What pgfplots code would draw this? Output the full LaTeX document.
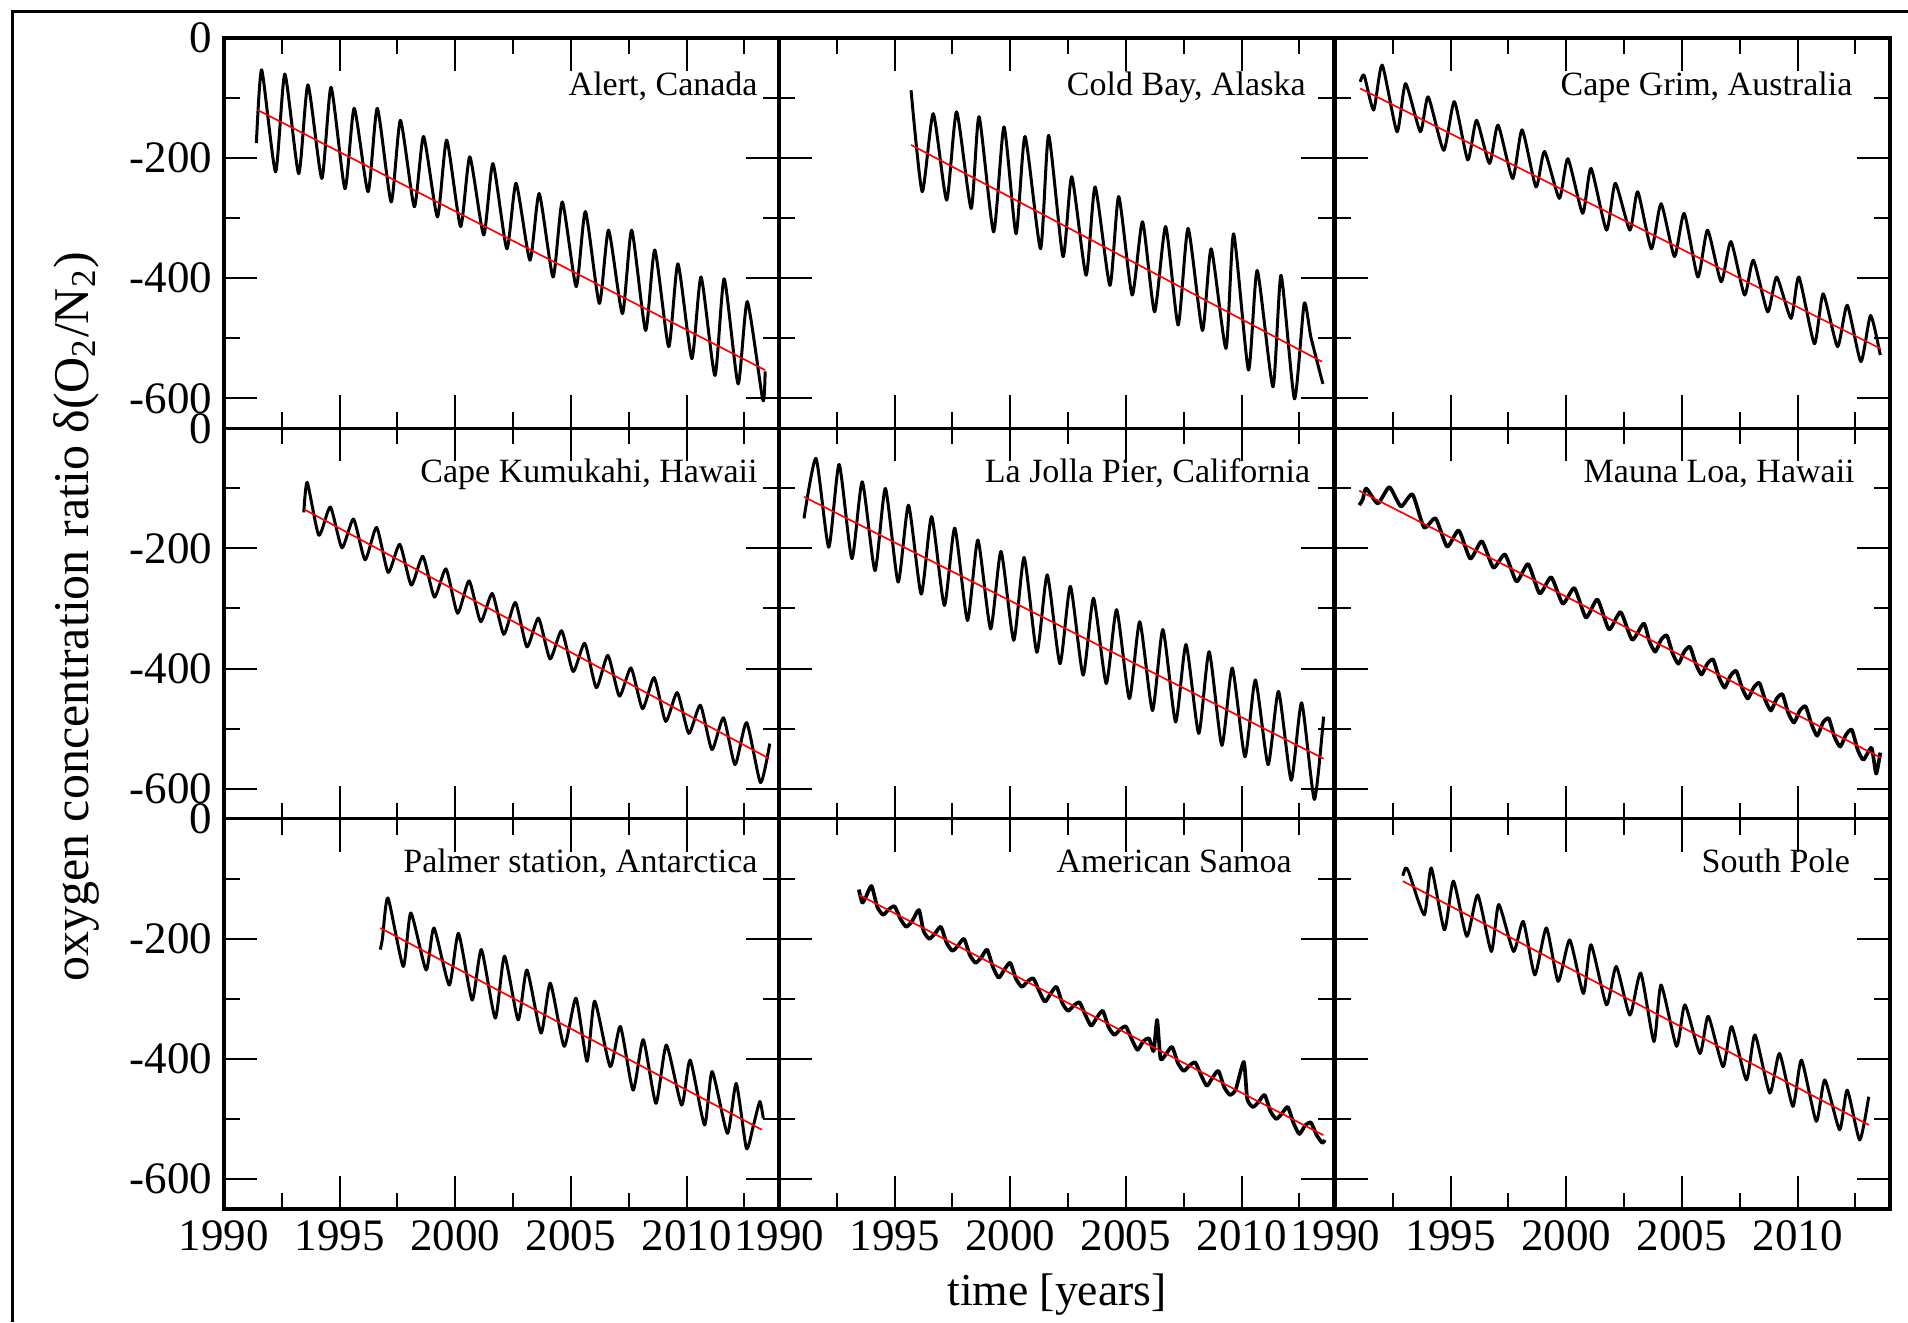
\documentclass[border=0pt]{standalone}
\usepackage{fontspec}
\setmainfont{Liberation Serif}
\usepackage{pgfplots}
\pgfplotsset{compat=1.18}

% one panel of the 3x3 grid
\pgfplotsset{
  panel/.style={
    scale only axis, width=166.5pt, height=117.1pt,
    anchor=north west,
    xmin=1990, xmax=2014, ymin=-650, ymax=0,
    xtick={1990,1995,2000,2005,2010},
    minor xtick={1992.5,1997.5,2002.5,2007.5,2012.5},
    ytick={-600,-400,-200,0},
    minor ytick={-500,-300,-100},
    xticklabels={}, yticklabels={},
    tick align=inside,
    major tick length=9.9pt, minor tick length=4.8pt,
    tick style={line width=0.6pt, black},
    axis line style={line width=1pt, black},
    tick label style={font=\fontsize{13.5}{14}\selectfont, black},
  },
  xlab/.style={xticklabels={1990,1995,2000,2005,2010}},
  ylab/.style={yticklabels={-600,-400,-200,0}},
  obs/.style={black, line width=0.9pt, line join=round, smooth, tension=0.35},
  trend/.style={red, line width=0.5pt},
}
\newcommand{\station}[2]{\node[anchor=base east, inner sep=0pt,
  font=\fontsize{10.2}{12}\selectfont] at (axis cs:#1) {#2};}

\begin{document}
\begin{tikzpicture}
\useasboundingbox (0,0) rectangle (572.4pt,-396.6pt);
\draw[line width=0.9pt] (3.6pt,-396.6pt) -- (3.6pt,-3.3pt) -- (572.4pt,-3.3pt);

% ---- row 1 ----
\begin{axis}[panel, ylab, at={(67.2pt,-11.4pt)}]
\addplot[obs] coordinates {(1991.40,-175) (1991.63,-53) (1992.23,-223) (1992.63,-60) (1993.23,-226) (1993.63,-78) (1994.23,-234) (1994.63,-82) (1995.23,-251) (1995.63,-117) (1996.23,-256) (1996.63,-117) (1997.23,-273) (1997.63,-137) (1998.23,-281) (1998.63,-164) (1999.23,-298) (1999.63,-170) (2000.23,-314) (2000.63,-198) (2001.23,-328) (2001.63,-209) (2002.23,-351) (2002.63,-242) (2003.23,-370) (2003.63,-259) (2004.23,-398) (2004.63,-273) (2005.23,-414) (2005.63,-289) (2006.23,-442) (2006.63,-320) (2007.23,-459) (2007.63,-320) (2008.23,-487) (2008.63,-353) (2009.23,-514) (2009.63,-376) (2010.23,-534) (2010.63,-398) (2011.23,-562) (2011.63,-401) (2012.23,-576) (2012.63,-439) (2013.30,-603) (2013.40,-555)};
\addplot[trend] coordinates {(1991.46,-120) (2013.40,-553)};
\station{2013.1,-95}{Alert, Canada}
\end{axis}

\begin{axis}[panel, at={(233.7pt,-11.4pt)}]
\addplot[obs] coordinates {(1995.71,-87) (1996.19,-256) (1996.67,-126) (1997.25,-270) (1997.68,-123) (1998.31,-284) (1998.65,-131) (1999.28,-323) (1999.73,-148) (2000.25,-326) (2000.64,-164) (2001.31,-351) (2001.66,-162) (2002.28,-364) (2002.66,-231) (2003.28,-395) (2003.67,-248) (2004.31,-412) (2004.69,-264) (2005.27,-428) (2005.72,-306) (2006.24,-456) (2006.72,-314) (2007.26,-478) (2007.69,-317) (2008.31,-487) (2008.69,-351) (2009.33,-517) (2009.66,-326) (2010.30,-553) (2010.68,-387) (2011.36,-581) (2011.71,-395) (2012.29,-601) (2012.71,-442) (2013.00,-498) (2013.52,-576)};
\addplot[trend] coordinates {(1995.71,-178) (2013.48,-539)};
\station{2012.8,-95}{Cold Bay, Alaska}
\end{axis}

\begin{axis}[panel, at={(400.5pt,-11.4pt)}]
\addplot[obs] coordinates {(1991.09,-73) (1991.26,-62) (1991.67,-120) (1992.04,-45) (1992.68,-156) (1993.05,-76) (1993.69,-156) (1994.03,-98) (1994.70,-187) (1995.16,-106) (1995.74,-203) (1996.12,-137) (1996.68,-209) (1997.05,-145) (1997.68,-234) (1998.09,-153) (1998.69,-248) (1999.06,-189) (1999.70,-267) (2000.07,-201) (2000.71,-292) (2001.07,-217) (2001.74,-320) (2002.12,-242) (2002.75,-320) (2003.09,-256) (2003.68,-351) (2004.10,-276) (2004.68,-364) (2005.10,-292) (2005.69,-398) (2006.11,-320) (2006.70,-406) (2007.12,-339) (2007.71,-428) (2008.09,-370) (2008.71,-456) (2009.10,-398) (2009.72,-467) (2010.06,-398) (2010.73,-509) (2011.11,-426) (2011.73,-514) (2012.15,-445) (2012.74,-539) (2013.16,-462) (2013.58,-528)};
\addplot[trend] coordinates {(1991.09,-84) (2013.58,-517)};
\station{2012.4,-95}{Cape Grim, Australia}
\end{axis}

% ---- row 2 ----
\begin{axis}[panel, ylab, at={(67.2pt,-128.5pt)}]
\addplot[obs] coordinates {(1993.45,-140) (1993.6,-90) (1994.1,-178) (1994.6,-131) (1995.1,-199) (1995.6,-151) (1996.1,-219) (1996.6,-165) (1997.1,-240) (1997.6,-193) (1998.1,-261) (1998.6,-213) (1999.1,-281) (1999.6,-234) (2000.1,-308) (2000.6,-254) (2001.1,-322) (2001.6,-275) (2002.1,-343) (2002.6,-290) (2003.1,-364) (2003.6,-316) (2004.1,-384) (2004.6,-337) (2005.1,-405) (2005.6,-358) (2006.1,-432) (2006.6,-378) (2007.1,-446) (2007.6,-399) (2008.1,-467) (2008.6,-415) (2009.1,-488) (2009.6,-440) (2010.1,-508) (2010.6,-461) (2011.1,-535) (2011.6,-482) (2012.1,-560) (2012.6,-490) (2013.2,-590) (2013.6,-525)};
\addplot[trend] coordinates {(1993.47,-135) (2013.58,-550)};
\station{2013.1,-90}{Cape Kumukahi, Hawaii}
\end{axis}

\begin{axis}[panel, at={(233.7pt,-128.5pt)}]
\addplot[obs] coordinates {(1991.08,-150) (1991.6,-50) (1992.15,-198) (1992.6,-60) (1993.15,-217) (1993.6,-89) (1994.15,-237) (1994.6,-100) (1995.15,-256) (1995.6,-128) (1996.15,-276) (1996.6,-147) (1997.15,-295) (1997.6,-166) (1998.15,-320) (1998.6,-186) (1999.15,-334) (1999.6,-205) (2000.15,-353) (2000.6,-215) (2001.15,-373) (2001.6,-244) (2002.15,-392) (2002.6,-263) (2003.15,-411) (2003.6,-283) (2004.15,-425) (2004.6,-302) (2005.15,-450) (2005.6,-322) (2006.15,-470) (2006.6,-335) (2007.15,-489) (2007.6,-360) (2008.15,-508) (2008.6,-372) (2009.15,-528) (2009.6,-399) (2010.15,-547) (2010.6,-419) (2011.15,-560) (2011.6,-438) (2012.15,-586) (2012.6,-457) (2013.15,-618) (2013.55,-480)};
\addplot[trend] coordinates {(1991.08,-114) (2013.55,-550)};
\station{2013.0,-90}{La Jolla Pier, California}
\end{axis}

\begin{axis}[panel, at={(400.5pt,-128.5pt)}]
\addplot[obs, line width=1.1pt] coordinates {(1991.05,-128) (1991.2,-118) (1991.35,-100) (1991.85,-125) (1992.35,-98) (1992.85,-130) (1993.35,-110) (1993.85,-165) (1994.35,-150) (1994.85,-197) (1995.35,-170) (1995.85,-217) (1996.35,-188) (1996.85,-232) (1997.35,-210) (1997.85,-255) (1998.35,-226) (1998.85,-275) (1999.35,-248) (1999.85,-292) (2000.35,-266) (2000.85,-315) (2001.35,-285) (2001.85,-335) (2002.35,-306) (2002.85,-352) (2003.35,-325) (2003.6,-355) (2003.85,-372) (2004.1,-352) (2004.35,-345) (2004.6,-375) (2004.85,-392) (2005.1,-372) (2005.35,-364) (2005.6,-392) (2005.85,-410) (2006.1,-392) (2006.35,-385) (2006.6,-414) (2006.85,-432) (2007.1,-412) (2007.35,-404) (2007.6,-432) (2007.85,-450) (2008.1,-432) (2008.35,-424) (2008.6,-452) (2008.85,-470) (2009.1,-450) (2009.35,-443) (2009.6,-474) (2009.85,-490) (2010.1,-470) (2010.35,-463) (2010.6,-492) (2010.85,-512) (2011.1,-490) (2011.35,-483) (2011.6,-514) (2011.85,-530) (2012.1,-510) (2012.35,-502) (2012.6,-535) (2012.85,-552) (2013.2,-532) (2013.4,-575) (2013.58,-540)};
\addplot[trend] coordinates {(1991.05,-104) (2013.58,-548)};
\station{2012.5,-90}{Mauna Loa, Hawaii}
\end{axis}

% ---- row 3 ----
\begin{axis}[panel, xlab, ylab, at={(67.2pt,-245.6pt)}]
\addplot[obs] coordinates {(1996.76,-218) (1996.85,-200) (1997.09,-132) (1997.75,-246) (1998.08,-157) (1998.74,-252) (1999.08,-182) (1999.74,-277) (2000.14,-191) (2000.73,-302) (2001.13,-218) (2001.73,-332) (2002.13,-229) (2002.72,-335) (2003.10,-252) (2003.71,-357) (2004.11,-274) (2004.71,-379) (2005.22,-299) (2005.70,-404) (2006.03,-304) (2006.70,-413) (2007.14,-346) (2007.69,-452) (2008.13,-368) (2008.68,-474) (2009.13,-377) (2009.79,-477) (2010.16,-402) (2010.78,-510) (2011.11,-421) (2011.77,-524) (2012.15,-441) (2012.59,-549) (2012.88,-513) (2013.17,-471) (2013.32,-499)};
\addplot[trend] coordinates {(1996.76,-182) (2013.26,-518)};
\station{2013.1,-90}{Palmer station, Antarctica}
\end{axis}

\begin{axis}[panel, xlab, at={(233.7pt,-245.6pt)}]
\addplot[obs, line width=1.1pt] coordinates {(1993.45,-118) (1993.6,-140) (1993.75,-131) (1994.0,-112) (1994.25,-147) (1994.5,-160) (1994.75,-151) (1995.0,-146) (1995.25,-167) (1995.5,-180) (1995.75,-171) (1996.05,-152) (1996.25,-187) (1996.5,-200) (1996.75,-191) (1997.0,-180) (1997.25,-207) (1997.5,-220) (1997.75,-211) (1998.0,-200) (1998.25,-227) (1998.5,-240) (1998.75,-231) (1999.0,-218) (1999.25,-247) (1999.5,-265) (1999.75,-251) (2000.0,-240) (2000.25,-267) (2000.5,-280) (2000.75,-271) (2001.0,-266) (2001.25,-287) (2001.5,-305) (2001.75,-291) (2002.0,-280) (2002.25,-307) (2002.5,-320) (2002.75,-311) (2003.0,-306) (2003.25,-327) (2003.5,-345) (2003.75,-331) (2004.0,-320) (2004.25,-347) (2004.5,-360) (2004.75,-351) (2005.0,-346) (2005.25,-367) (2005.5,-385) (2005.75,-371) (2006.0,-366) (2006.2,-387) (2006.35,-335) (2006.5,-400) (2006.75,-391) (2007.0,-380) (2007.25,-407) (2007.5,-420) (2007.75,-411) (2008.0,-406) (2008.25,-427) (2008.5,-445) (2008.75,-431) (2009.0,-420) (2009.25,-447) (2009.5,-460) (2009.75,-451) (2010.1,-405) (2010.25,-467) (2010.5,-480) (2010.75,-471) (2011.0,-460) (2011.25,-487) (2011.5,-500) (2011.75,-491) (2012.0,-480) (2012.25,-507) (2012.5,-525) (2012.75,-511) (2013.0,-506) (2013.25,-527) (2013.5,-540) (2013.6,-535)};
\addplot[trend] coordinates {(1993.47,-127) (2013.54,-527)};
\station{2012.2,-90}{American Samoa}
\end{axis}

\begin{axis}[panel, xlab, at={(400.5pt,-245.6pt)}]
\addplot[obs] coordinates {(1992.93,-95) (1993.05,-82) (1993.2,-90) (1993.86,-160) (1994.16,-82) (1994.73,-185) (1995.12,-104) (1995.70,-196) (1996.17,-127) (1996.76,-221) (1997.08,-143) (1997.72,-221) (1998.14,-171) (1998.64,-260) (1999.14,-182) (1999.65,-271) (2000.15,-202) (2000.74,-291) (2001.07,-210) (2001.74,-310) (2002.16,-246) (2002.75,-327) (2003.22,-257) (2003.79,-371) (2004.10,-277) (2004.77,-379) (2005.13,-310) (2005.78,-391) (2006.14,-329) (2006.78,-413) (2007.15,-346) (2007.79,-435) (2008.16,-360) (2008.80,-457) (2009.22,-391) (2009.80,-479) (2010.17,-402) (2010.81,-504) (2011.18,-435) (2011.82,-518) (2012.15,-452) (2012.69,-535) (2013.08,-463)};
\addplot[trend] coordinates {(1992.93,-104) (2013.08,-510)};
\station{2012.3,-90}{South Pole}
\end{axis}

\node[rotate=90, anchor=base, font=\fontsize{15}{18}\selectfont]
  at (26.4pt,-185.1pt) {oxygen concentration ratio δ(O\textsubscript{2}/N\textsubscript{2})};
\node[anchor=base, font=\fontsize{13.7}{16}\selectfont]
  at (317.1pt,-391.5pt) {time [years]};
\end{tikzpicture}
\end{document}
